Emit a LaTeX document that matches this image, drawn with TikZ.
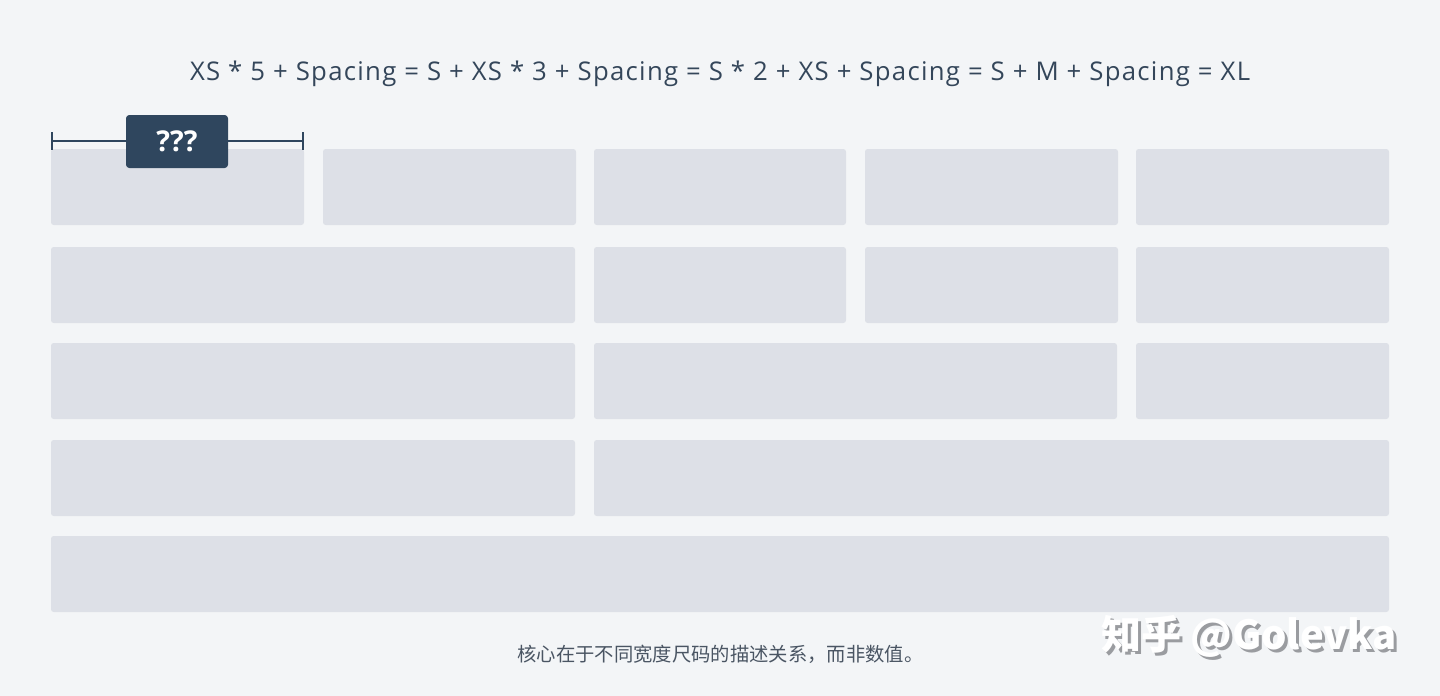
\documentclass[tikz,border=0pt]{standalone}
\usepackage{fontspec}
\setmainfont{Open Sans}
\newfontfamily\titlefont[LetterSpace=5]{Open Sans}
\newfontfamily\cjk{Noto Sans CJK SC}
\definecolor{bg}{HTML}{F3F5F7}
\definecolor{cell}{HTML}{DDE0E7}
\definecolor{ink}{HTML}{34465A}
\definecolor{tag}{HTML}{2F465E}
\definecolor{note}{HTML}{4A5563}
\definecolor{shade}{HTML}{9A9CA0}
\begin{document}
\begin{tikzpicture}[x=0.75pt,y=-0.75pt,
  cellbox/.style={fill=cell,rounded corners=2pt},
  measure/.style={draw=tag,line width=1.8pt},
  tagbox/.style={fill=tag,rounded corners=2.5pt,text=white,font=\fontsize{21.5}{24}\selectfont\bfseries,minimum width=76.5pt,minimum height=39.75pt,inner sep=0pt},
  title/.style={text=ink,font=\titlefont\fontsize{19.3}{23}\selectfont,inner sep=0pt},
  notetext/.style={text=note,font=\cjk\fontsize{14.5}{17}\selectfont,inner sep=0pt},
  wmark/.style={font=\cjk\fontsize{30}{34}\selectfont\bfseries,inner sep=0pt,anchor=west}
]
\fill[bg] (0,0) rectangle (1440,696);
\useasboundingbox (0,0) rectangle (1440,696);
\node[title] (ttl) at (720,74) {XS * 5 + Spacing = S + XS * 3 + Spacing = S * 2 + XS + Spacing = S + M + Spacing = XL};
% row 1
\fill[cellbox] (51,149) rectangle (304,225);
\fill[cellbox] (323,149) rectangle (576,225);
\fill[cellbox] (594,149) rectangle (846,225);
\fill[cellbox] (865,149) rectangle (1118,225);
\fill[cellbox] (1136,149) rectangle (1389,225);
% row 2
\fill[cellbox] (51,247) rectangle (575,323);
\fill[cellbox] (594,247) rectangle (846,323);
\fill[cellbox] (865,247) rectangle (1118,323);
\fill[cellbox] (1136,247) rectangle (1389,323);
% row 3
\fill[cellbox] (51,343) rectangle (575,419);
\fill[cellbox] (594,343) rectangle (1117,419);
\fill[cellbox] (1136,343) rectangle (1389,419);
% row 4
\fill[cellbox] (51,440) rectangle (575,516);
\fill[cellbox] (594,440) rectangle (1389,516);
% row 5
\fill[cellbox] (51,536) rectangle (1389,612);
% measure
\coordinate (ml) at (52,141);
\coordinate (mr) at (303,141);
\draw[measure] (ml) -- (mr);
\draw[measure] ([yshift=-6.5]ml) -- ([yshift=6.5]ml);
\draw[measure] ([yshift=-6.5]mr) -- ([yshift=6.5]mr);
\node[tagbox] (q) at (177,141.5) {???};
% note
\node[notetext] (nt) at (720.5,654) {核心在于不同宽度尺码的描述关系，而非数值。};
% watermark
\node[wmark,text=shade] (wms) at (1104,639) {知乎 @Golevka};
\node[wmark,text=white] (wm) at (1101,636) {知乎 @Golevka};
\end{tikzpicture}
\end{document}
